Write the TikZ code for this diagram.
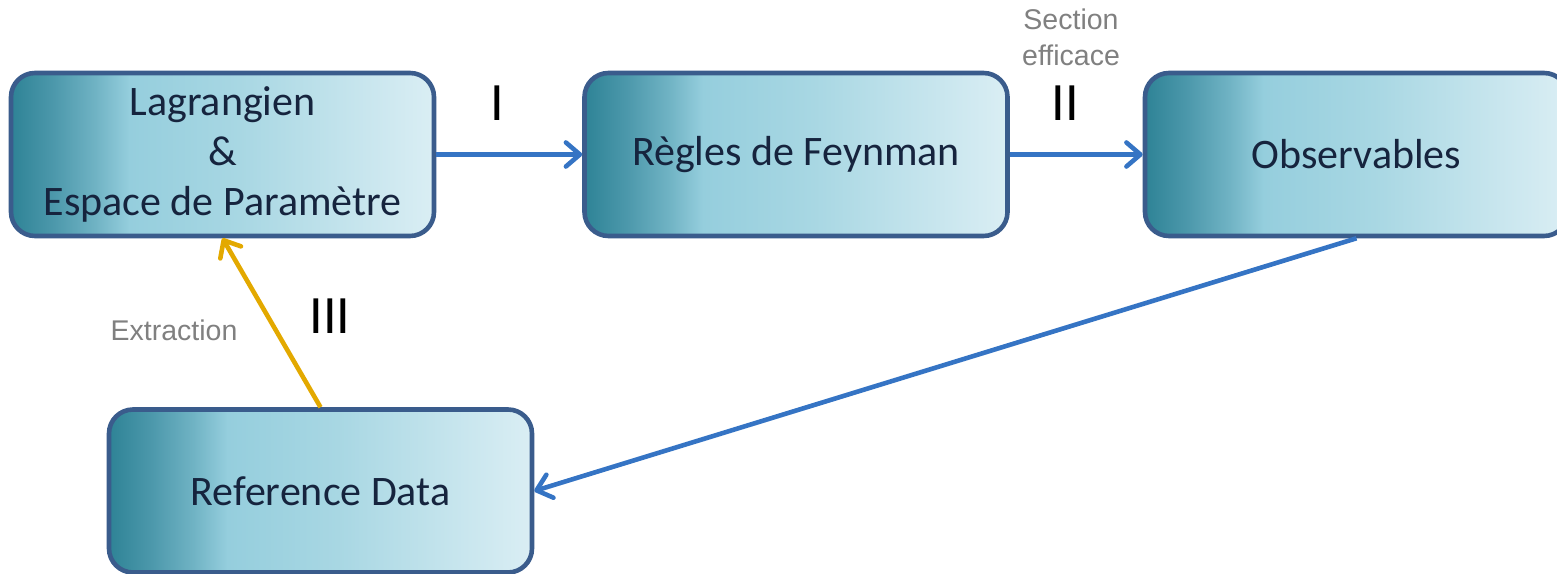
\documentclass[tikz,border=0pt]{standalone}
\usepackage{fontspec}
\setmainfont{Carlito}
\newfontfamily\labelfont{Liberation Sans}
\usetikzlibrary{arrows.meta}
\definecolor{gA}{HTML}{2E8396}
\definecolor{gB}{HTML}{4C98AB}
\definecolor{gB2}{HTML}{70B3C4}
\definecolor{gC}{HTML}{95CEDD}
\definecolor{gD}{HTML}{A8D7E3}
\definecolor{gE}{HTML}{DAEEF4}
\definecolor{boxborder}{HTML}{3A5C8C}
\definecolor{boxtext}{HTML}{16243E}
\definecolor{arrowblue}{HTML}{3574C4}
\definecolor{arrowyellow}{HTML}{E3A900}
\definecolor{labelgray}{HTML}{808080}
\pgfdeclarehorizontalshading{boxgrad}{100bp}{color(0bp)=(gA); color(25bp)=(gA); color(30bp)=(gB); color(35bp)=(gB2); color(39bp)=(gC); color(52bp)=(gD); color(75bp)=(gE); color(100bp)=(gE)}
\tikzset{
  box/.style={draw=boxborder, line width=4.6pt, rounded corners=24pt, shading=boxgrad,
    minimum width=423pt, minimum height=163pt, inner sep=0pt, align=center,
    font=\fontsize{42}{50}\selectfont, text=boxtext},
  conn/.style={line width=4.6pt, arrowblue, -{Straight Barb[length=14pt,width=24pt,round]}},
  connY/.style={conn, arrowyellow},
  numeral/.style={font=\fontsize{54}{60}\selectfont, text=black, inner sep=0pt},
  glabel/.style={font=\labelfont\fontsize{28.5}{36}\selectfont, text=labelgray, inner sep=0pt, align=center}
}
\begin{document}
\begin{tikzpicture}[x=1pt,y=1pt]
\useasboundingbox (0,0) rectangle (1557,573);
\node[box] (A) at (222.5,418.5) {Lagrangien\\\&\\Espace de Paramètre};
\node[box] (B) at (796,418.5) {Règles de Feynman};
\node[box] (C) at (1356.5,418.5) {Observables};
\node[box] (D) at (320.5,82) {Reference Data};
\draw[conn] (A.east) -- (B.west);
\draw[conn] (B.east) -- (C.west);
\draw[conn] (C.south) -- (D.east);
\draw[connY] (D.north) -- (A.south);
\node[numeral] (n1) at (497,470) {I};
\node[numeral] (n2) at (1065,470) {II};
\node[numeral] (n3) at (330,257) {III};
\node[glabel] (sec) at (1071,536) {Section\\efficace};
\node[glabel] (ext) at (174,243) {Extraction};
\end{tikzpicture}
\end{document}
